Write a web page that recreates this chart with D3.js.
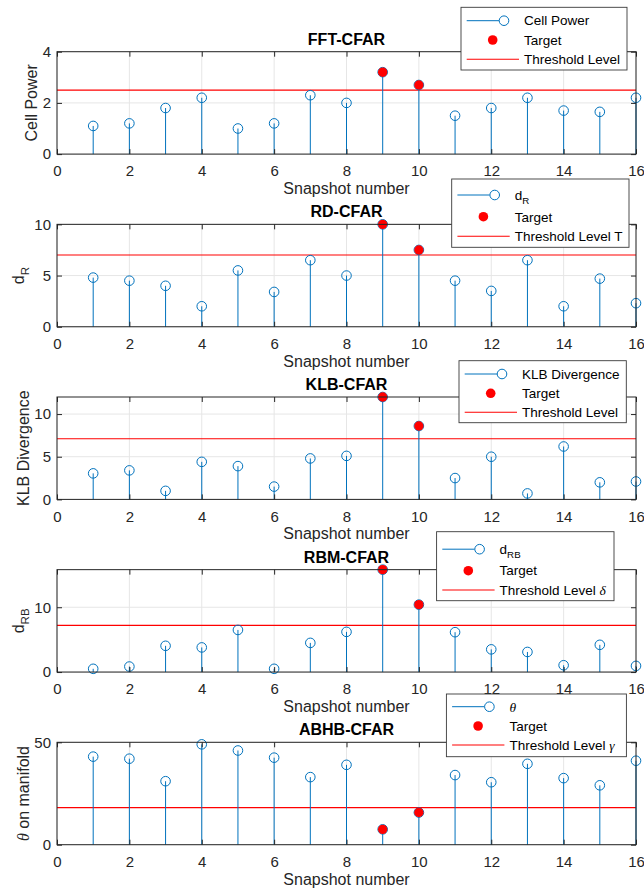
<!DOCTYPE html>
<html lang="en">
<head>
    <meta charset="UTF-8">
    <title>CFAR detectors</title>
    <script src="https://d3js.org/d3.v7.min.js"></script>
    <style>
        body { margin: 0; background: #fff; }
        svg { display: block; font-family: "Liberation Sans", Arial, Helvetica, sans-serif; }
        .grid line { stroke: #e6e6e6; stroke-width: 1; }
        .tick line { stroke: #262626; }
        .tick text { fill: #262626; font-size: 15px; }
    </style>
</head>
<body>
    <svg width="644" height="889"></svg>

    <script>
        // snapshots 1..16, targets sit in snapshots 9 and 10
        const snapshots = [1, 2, 3, 4, 5, 6, 7, 8, 9, 10, 11, 12, 13, 14, 15, 16];
        const targets = [9, 10];
        const xTicks = [0, 2, 4, 6, 8, 10, 12, 14, 16];

        const cellPower = [1.1, 1.2, 1.8, 2.2, 1.0, 1.2, 2.3, 2.0, 3.2, 2.7, 1.5, 1.8, 2.2, 1.7, 1.65, 2.2];
        const dR = [4.8, 4.5, 4.0, 2.0, 5.5, 3.4, 6.5, 5.0, 10.0, 7.5, 4.5, 3.5, 6.5, 2.0, 4.7, 2.3];
        const klb = [3.05, 3.4, 1.0, 4.4, 3.9, 1.5, 4.8, 5.1, 12.0, 8.6, 2.5, 5.0, 0.7, 6.2, 2.0, 2.1];
        const dRB = [0.5, 0.85, 4.05, 3.8, 6.5, 0.5, 4.5, 6.2, 15.8, 10.4, 6.15, 3.5, 3.1, 1.05, 4.2, 0.95];
        const theta = [43, 42, 31, 49, 46, 42.5, 33, 39, 7.5, 15.7, 34, 30.5, 39.5, 32.5, 29, 41];

        const thresholds = [2.5, 7, 7.1, 7.2, 18.1];
        const yMax = [4, 10, 12, 15.8, 50];
        const yTicks = [[0, 2, 4], [0, 5, 10], [0, 5, 10], [0, 10], [0, 50]];
        const titles = ["FFT-CFAR", "RD-CFAR", "KLB-CFAR", "RBM-CFAR", "ABHB-CFAR"];
        const yLabels = [
            [{ t: "Cell Power" }],
            [{ t: "d" }, { t: "R", sub: true }],
            [{ t: "KLB Divergence" }],
            [{ t: "d" }, { t: "RB", sub: true }],
            [{ t: "θ", it: true }, { t: " on manifold" }]
        ];
        const seriesNames = [
            [{ t: "Cell Power" }],
            [{ t: "d" }, { t: "R", sub: true }],
            [{ t: "KLB Divergence" }],
            [{ t: "d" }, { t: "RB", sub: true }],
            [{ t: "θ", it: true }]
        ];
        const thresholdNames = [
            [{ t: "Threshold Level" }],
            [{ t: "Threshold Level T" }],
            [{ t: "Threshold Level" }],
            [{ t: "Threshold Level " }, { t: "δ", it: true }],
            [{ t: "Threshold Level " }, { t: "γ", it: true }]
        ];
        const series = [cellPower, dR, klb, dRB, theta];

        const blue = "#0072BD";
        const red = "#FF0000";
        const serif = "'Liberation Serif', 'DejaVu Serif', serif";

        const left = 57, right = 636;
        const top0 = 51.7, step = 172.65, ph = 102.4;
        const yLabelX = [37, 24, 28.5, 24, 28.5];

        // legend boxes (position only)
        const legendBox = [
            { x: 461, y: 7.3, w: 166, h: 62.7, rows: [13.4, 32.7, 52] },
            { x: 451.7, y: 179, w: 177.3, h: 68.3, rows: [16, 37.7, 57.3] },
            { x: 459, y: 360.7, w: 167.3, h: 62, rows: [13.3, 32.6, 51.6] },
            { x: 436.6, y: 531.7, w: 177.4, h: 69, rows: [17.5, 39, 58.3] },
            { x: 446.4, y: 694, w: 180, h: 62.7, rows: [12.7, 32, 51] }
        ];

        const svg = d3.select("svg");

        const x = d3.scaleLinear().domain([0, 16]).range([left, right]);

        function rich(sel, parts, size) {
            parts.forEach(p => {
                const ts = sel.append("tspan").text(p.t);
                if (p.sub) ts.attr("font-size", size * 0.72).attr("dy", size * 0.3);
                if (p.it) ts.attr("font-style", "italic").attr("font-family", serif);
            });
        }

        series.forEach((vals, k) => {
            const top = top0 + k * step;
            const bottom = top + ph;
            const y = d3.scaleLinear().domain([0, yMax[k]]).range([bottom, top]);
            const g = svg.append("g");

            // grid
            const grid = g.append("g").attr("class", "grid");
            grid.selectAll(".gx").data(xTicks).join("line")
                .attr("x1", d => x(d)).attr("x2", d => x(d))
                .attr("y1", top).attr("y2", bottom);
            grid.selectAll(".gy").data(yTicks[k]).join("line")
                .attr("x1", left).attr("x2", right)
                .attr("y1", d => y(d)).attr("y2", d => y(d));

            // threshold
            g.append("line")
                .attr("x1", x(0)).attr("x2", x(16))
                .attr("y1", y(thresholds[k])).attr("y2", y(thresholds[k]))
                .attr("stroke", red).attr("stroke-width", 1.1);

            const pts = snapshots.map((s, i) => ({ s: s, v: vals[i] }));

            g.selectAll(".stem").data(pts).join("line")
                .attr("x1", d => x(d.s)).attr("x2", d => x(d.s))
                .attr("y1", y(0)).attr("y2", d => y(d.v))
                .attr("stroke", blue).attr("stroke-width", 1);

            g.selectAll(".mark").data(pts).join("circle")
                .attr("cx", d => x(d.s)).attr("cy", d => y(d.v))
                .attr("r", 4.8)
                .attr("fill", "none").attr("stroke", blue).attr("stroke-width", 1);

            g.selectAll(".target").data(pts.filter(d => targets.includes(d.s))).join("circle")
                .attr("cx", d => x(d.s)).attr("cy", d => y(d.v))
                .attr("r", 4.7).attr("fill", red);

            // box + ticks
            g.append("rect")
                .attr("x", left).attr("y", top)
                .attr("width", right - left).attr("height", bottom - top)
                .attr("fill", "none").attr("stroke", "#262626").attr("stroke-width", 1);

            const ax = g.append("g").attr("transform", `translate(0,${bottom})`)
                .call(d3.axisBottom(x).tickValues(xTicks).tickSize(-5).tickPadding(11.5).tickFormat(d3.format("d")));
            ax.select(".domain").remove();
            const axT = g.append("g").attr("transform", `translate(0,${top})`)
                .call(d3.axisTop(x).tickValues(xTicks).tickSize(-5).tickFormat(""));
            axT.select(".domain").remove();
            const ay = g.append("g").attr("transform", `translate(${left},0)`)
                .call(d3.axisLeft(y).tickValues(yTicks[k]).tickSize(-5).tickPadding(6).tickFormat(d3.format("d")));
            ay.select(".domain").remove();
            const ayR = g.append("g").attr("transform", `translate(${right},0)`)
                .call(d3.axisRight(y).tickValues(yTicks[k]).tickSize(-5).tickFormat(""));
            ayR.select(".domain").remove();

            // title
            g.append("text")
                .attr("x", (left + right) / 2).attr("y", top - 7)
                .attr("text-anchor", "middle")
                .attr("font-size", 16).attr("font-weight", "bold").attr("fill", "#000")
                .text(titles[k]);

            // x label
            g.append("text")
                .attr("x", (left + right) / 2).attr("y", bottom + 40)
                .attr("text-anchor", "middle")
                .attr("font-size", 16).attr("fill", "#262626")
                .text("Snapshot number");

            // y label
            const yl = g.append("text")
                .attr("transform", `translate(${yLabelX[k]},${(top + bottom) / 2}) rotate(-90)`)
                .attr("text-anchor", "middle")
                .attr("font-size", 16).attr("fill", "#262626");
            rich(yl, yLabels[k], 16);

            // legend
            const lb = legendBox[k];
            const lg = g.append("g").attr("transform", `translate(${lb.x},${lb.y})`);
            lg.append("rect").attr("width", lb.w).attr("height", lb.h)
                .attr("fill", "#fff").attr("stroke", "#3a3a3a").attr("stroke-width", 0.9);
            const r0 = lb.rows[0], r1 = lb.rows[1], r2 = lb.rows[2];
            lg.append("line").attr("x1", 5.7).attr("x2", 38).attr("y1", r0).attr("y2", r0)
                .attr("stroke", blue).attr("stroke-width", 1);
            lg.append("circle").attr("cx", 43).attr("cy", r0).attr("r", 4.8)
                .attr("fill", "none").attr("stroke", blue).attr("stroke-width", 1);
            lg.append("circle").attr("cx", 31.7).attr("cy", r1).attr("r", 4.8).attr("fill", red);
            lg.append("line").attr("x1", 5.7).attr("x2", 58).attr("y1", r2).attr("y2", r2)
                .attr("stroke", red).attr("stroke-width", 1.1);

            const labels = [seriesNames[k], [{ t: "Target" }], thresholdNames[k]];
            lb.rows.forEach((ry, i) => {
                const t = lg.append("text").attr("x", 63).attr("y", ry + 4.8)
                    .attr("font-size", 13.5).attr("fill", "#000");
                rich(t, labels[i], 13.5);
            });
        });
    </script>
</body>
</html>
